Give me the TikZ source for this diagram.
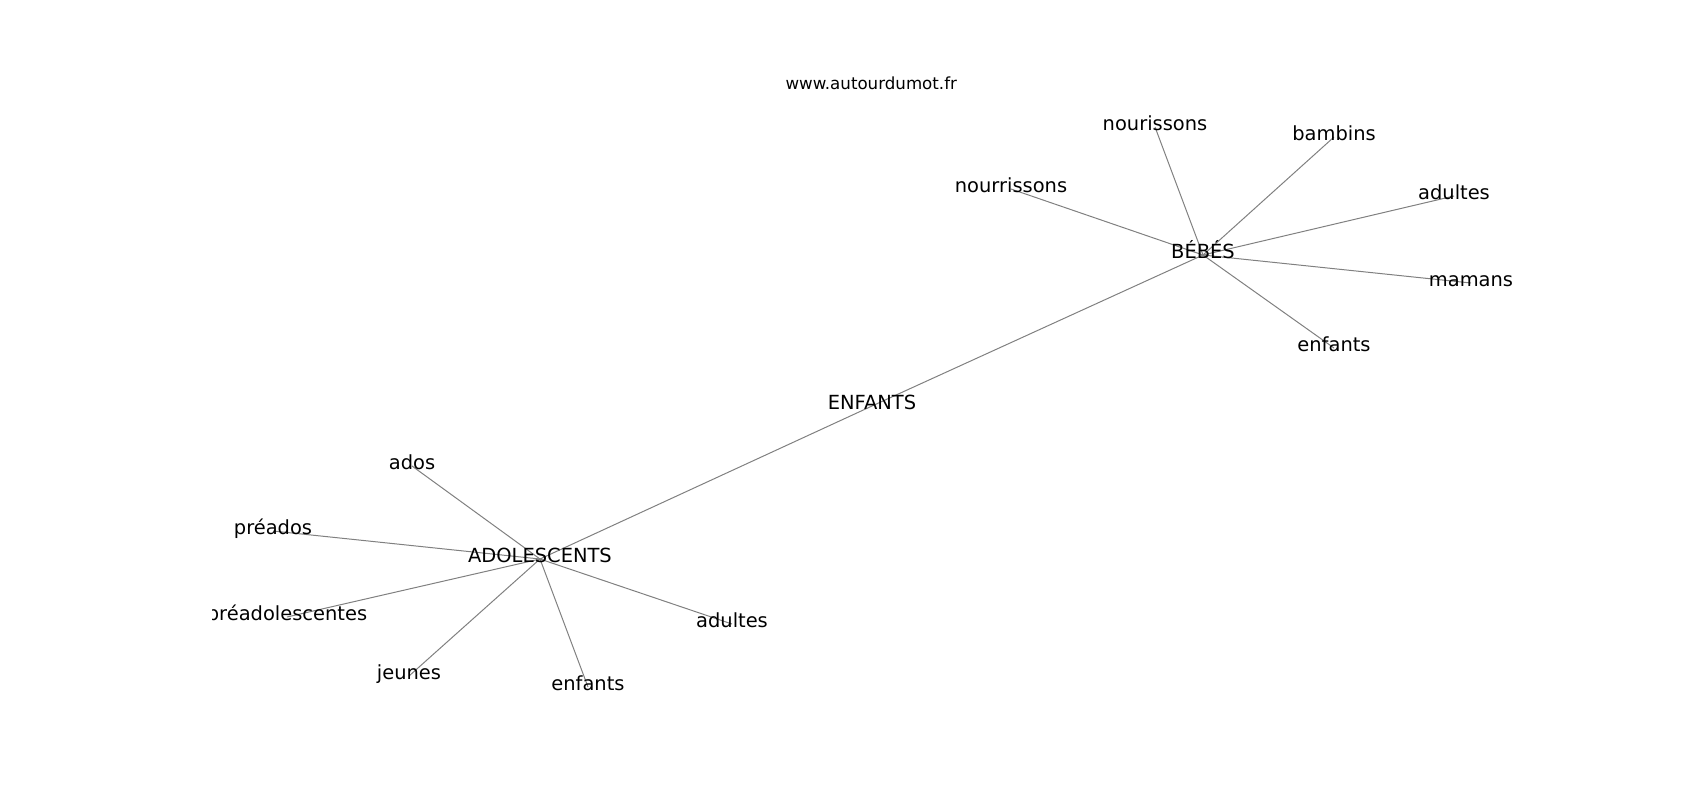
\documentclass[tikz,border=0pt]{standalone}
\usepackage{fontspec}
\setmainfont{DejaVu Sans}
\usetikzlibrary{backgrounds}
\tikzset{
  lbl/.style={inner sep=0pt, text height=0.76em, text depth=0.24em, anchor=center, font=\fontsize{14}{16}\selectfont, text=black},
  ttl/.style={inner sep=0pt, anchor=base, font=\fontsize{12}{14}\selectfont, text=black},
  edge/.style={draw=black!50, line width=0.72pt}
}
\begin{document}
\begin{tikzpicture}[x=0.72pt, y=-0.72pt]
\useasboundingbox (0,0) rectangle (1700,800);
\node[ttl] (title) at (871.25,89) {www.autourdumot.fr};
\begin{scope}
\clip (212.5,96) rectangle (1530,712);
\node[lbl] (enf) at (872,406) {ENFANTS};
\node[lbl] (ado) at (540,559) {ADOLESCENTS};
\node[lbl] (beb) at (1203,255) {BÉBÉS};
\node[lbl] (nou) at (1155,127) {nourissons};
\node[lbl] (bam) at (1334,137) {bambins};
\node[lbl] (nour) at (1011,189) {nourrissons};
\node[lbl] (adt) at (1454,196) {adultes};
\node[lbl] (mam) at (1471,283) {mamans};
\node[lbl] (ent) at (1334,348) {enfants};
\node[lbl] (ados) at (412,466) {ados};
\node[lbl] (pre) at (273,531) {préados};
\node[lbl] (prea) at (287,617) {préadolescentes};
\node[lbl] (jeu) at (409,676) {jeunes};
\node[lbl] (enb) at (588,687) {enfants};
\node[lbl] (adb) at (732,624) {adultes};
\end{scope}
\begin{scope}[on background layer]
\draw[edge] (ado.center) -- (enf.center);
\draw[edge] (enf.center) -- (beb.center);
\foreach \n in {nou,bam,nour,adt,mam,ent} \draw[edge] (beb.center) -- (\n.center);
\foreach \n in {ados,pre,prea,jeu,enb,adb} \draw[edge] (ado.center) -- (\n.center);
\end{scope}
\end{tikzpicture}
\end{document}
